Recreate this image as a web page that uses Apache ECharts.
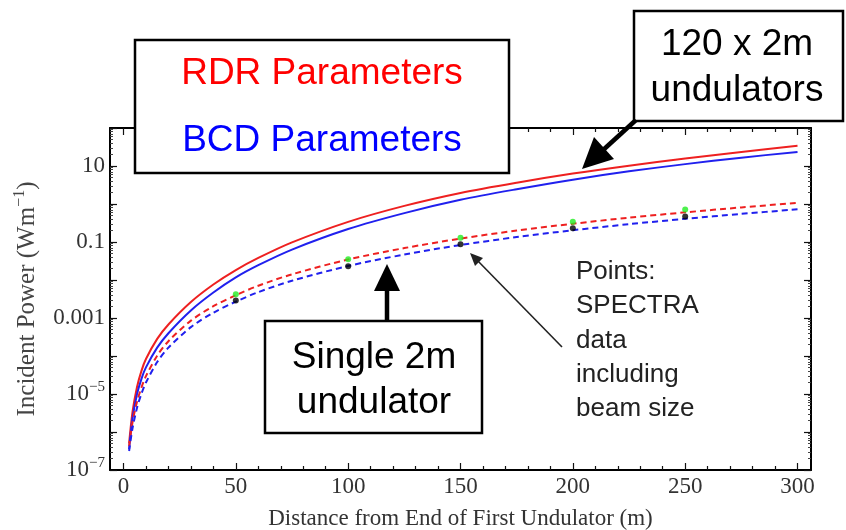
<!DOCTYPE html>
<html><head><meta charset="utf-8">
<script src="https://cdn.jsdelivr.net/npm/echarts@6/dist/echarts.min.js"></script>
<style>html,body{margin:0;padding:0;background:#fff}#c{width:846px;height:530px}</style>
</head><body><div id="c"></div>
<script>
// Distance from end of first undulator (m)
const distances = [2.5, 4, 6, 8, 10, 15, 20, 30, 40, 50, 60, 75, 100, 125, 150, 175, 200, 225, 250, 275, 300];
// Incident power (W/m), 120 x 2m undulators
const rdr120 = [5.0e-7, 3.31e-6, 1.51e-5, 4.07e-5, 8.32e-5, 2.82e-4, 6.76e-4, 2.63e-3, 7.59e-3, 0.0182, 0.0380, 0.0977, 0.339, 0.891, 1.95, 3.63, 6.31, 10.2, 15.8, 23.4, 33.9];
const bcd120 = [3.55e-7, 2.24e-6, 9.77e-6, 2.51e-5, 5.01e-5, 1.66e-4, 3.98e-4, 1.58e-3, 4.68e-3, 0.0117, 0.0245, 0.0631, 0.219, 0.575, 1.29, 2.45, 4.37, 7.24, 11.2, 16.6, 23.4];
// Single 2m undulator
const rdrSingle = [4.17e-7, 1.78e-6, 6.17e-6, 1.48e-5, 2.95e-5, 1.02e-4, 2.45e-4, 8.51e-4, 2.04e-3, 3.98e-3, 7.08e-3, 0.0141, 0.0347, 0.0692, 0.123, 0.200, 0.302, 0.437, 0.603, 0.813, 1.07];
const bcdSingle = [3.16e-7, 1.23e-6, 4.27e-6, 1.02e-5, 2.0e-5, 6.92e-5, 1.66e-4, 5.75e-4, 1.38e-3, 2.69e-3, 4.79e-3, 9.55e-3, 0.0234, 0.0468, 0.0832, 0.135, 0.204, 0.295, 0.407, 0.550, 0.724];
// SPECTRA points
const spectraX = [50, 100, 150, 200, 250];
const spectraRDR = [0.0042, 0.035, 0.129, 0.34, 0.72];
const spectraBCD = [0.0029, 0.023, 0.087, 0.23, 0.47];
// ticks
const xMajorTicks = [0, 50, 100, 150, 200, 250, 300];
const xMinorTicks = [10,20,30,40,60,70,80,90,110,120,130,140,160,170,180,190,210,220,230,240,260,270,280,290];
const yLabelValues = [1e-7, 1e-5, 1e-3, 0.1, 10];
const yLabelTexts = ['{b|10}{s|−7}', '{b|10}{s|−5}', '0.001', '0.1', '10'];
const yMinorMantissas = [2, 3, 4, 5, 6, 7, 8, 9];
const yDecades = [1e-7, 1e-6, 1e-5, 1e-4, 1e-3, 1e-2, 0.1, 1, 10];

const pair = (xs, ys) => xs.map((x, i) => [x, ys[i]]);
const serif = 'Liberation Serif';
const RED = '#ee2020', BLUE = '#2020ee';
const yMinorTicks = [];
yDecades.forEach(d => yMinorMantissas.forEach(m => yMinorTicks.push(+(m * d).toPrecision(3))));

const chart = echarts.init(document.getElementById('c'), null, {renderer: 'canvas'});
const xBase = {type: 'value', min: -6, max: 306, gridIndex: 0, splitLine: {show: false}};
const tickStyle = {color: '#111', width: 1.2};
const yLabelFmt = v => {
  const e = Math.round(Math.log10(v));
  const i = yLabelValues.findIndex(t => Math.round(Math.log10(t)) === e);
  return i >= 0 ? yLabelTexts[i] : '';
};
const yBase = {type: 'log', logBase: 10, min: 1e-7, max: 100, splitNumber: 9, splitLine: {show: false}};
chart.setOption({
  animation: false,
  backgroundColor: '#ffffff',
  grid: {left: 110, right: 35, top: 128, bottom: 60, show: false, containLabel: false, outerBoundsMode: 'none'},
  xAxis: [
    Object.assign({}, xBase, {position: 'bottom',
      axisLine: {show: true, onZero: false, lineStyle: {color: '#000', width: 2}},
      axisTick: {show: true, inside: true, length: 7, lineStyle: tickStyle, customValues: xMajorTicks},
      axisLabel: {customValues: xMajorTicks, fontFamily: serif, fontSize: 23, color: '#333', margin: 5},
      name: 'Distance from End of First Undulator (m)', nameLocation: 'middle', nameGap: 37,
      nameTextStyle: {fontFamily: serif, fontSize: 23, color: '#333'}}),
    Object.assign({}, xBase, {position: 'bottom',
      axisLine: {show: false, onZero: false},
      axisTick: {show: true, inside: true, length: 4, lineStyle: tickStyle, customValues: xMinorTicks},
      axisLabel: {show: false}}),
    Object.assign({}, xBase, {position: 'top',
      axisLine: {show: true, onZero: false, lineStyle: {color: '#000', width: 2}},
      axisTick: {show: true, inside: true, length: 7, lineStyle: tickStyle, customValues: xMajorTicks},
      axisLabel: {show: false}}),
    Object.assign({}, xBase, {position: 'top',
      axisLine: {show: false, onZero: false},
      axisTick: {show: true, inside: true, length: 4, lineStyle: tickStyle, customValues: xMinorTicks},
      axisLabel: {show: false}})
  ],
  yAxis: [
    Object.assign({}, yBase, {position: 'left',
      axisLine: {show: true, onZero: false, lineStyle: {color: '#000', width: 2}},
      axisTick: {show: true, inside: true, length: 7, lineStyle: tickStyle},
      axisLabel: {formatter: yLabelFmt, fontFamily: serif, fontSize: 23, color: '#333', margin: 5,
        rich: {b: {fontFamily: serif, fontSize: 23, color: '#333'},
               s: {fontFamily: serif, fontSize: 15, color: '#333', padding: [0, 0, 14, 0]}}},
      name: 'Incident Power (Wm{s|−1})', nameLocation: 'middle', nameGap: 68,
      nameTextStyle: {fontFamily: serif, fontSize: 25, color: '#444',
        rich: {s: {fontFamily: serif, fontSize: 16, color: '#444', padding: [0, 0, 14, 0]}}}}),
    Object.assign({}, yBase, {position: 'right',
      axisLine: {show: true, onZero: false, lineStyle: {color: '#000', width: 2}},
      axisTick: {show: true, inside: true, length: 7, lineStyle: tickStyle},
      axisLabel: {show: false}}),
    Object.assign({}, yBase, {position: 'left',
      axisLine: {show: false, onZero: false},
      axisTick: {show: true, inside: true, length: 3, lineStyle: {color: '#444', width: 1}, customValues: yMinorTicks},
      axisLabel: {show: false}}),
    Object.assign({}, yBase, {position: 'right',
      axisLine: {show: false, onZero: false},
      axisTick: {show: true, inside: true, length: 3, lineStyle: {color: '#444', width: 1}, customValues: yMinorTicks},
      axisLabel: {show: false}})
  ],
  series: [
    {type: 'line', name: 'RDR 120', data: pair(distances, rdr120), showSymbol: false, smooth: 0.3,
      lineStyle: {color: RED, width: 2}},
    {type: 'line', name: 'BCD 120', data: pair(distances, bcd120), showSymbol: false, smooth: 0.3,
      lineStyle: {color: BLUE, width: 2}},
    {type: 'line', name: 'RDR single', data: pair(distances, rdrSingle), showSymbol: false, smooth: 0.3,
      lineStyle: {color: RED, width: 2, type: [6, 4]}},
    {type: 'line', name: 'BCD single', data: pair(distances, bcdSingle), showSymbol: false, smooth: 0.3,
      lineStyle: {color: BLUE, width: 2, type: [6, 4]}},
    {type: 'scatter', name: 'SPECTRA RDR', data: pair(spectraX, spectraRDR), symbolSize: 6, itemStyle: {color: '#22ee22'}, z: 5},
    {type: 'scatter', name: 'SPECTRA BCD', data: pair(spectraX, spectraBCD), symbolSize: 6, itemStyle: {color: '#000'}, z: 5}
  ],
  graphic: [
    {type: 'rect', shape: {x: 135, y: 40, width: 374, height: 133}, style: {fill: '#fff', stroke: '#000', lineWidth: 2.5}, z: 100},
    {type: 'text', x: 322, y: 74, style: {text: 'RDR Parameters', fill: '#ff0000', font: '37px "Liberation Sans"', textAlign: 'center', textVerticalAlign: 'middle'}, z: 101},
    {type: 'text', x: 322, y: 141, style: {text: 'BCD Parameters', fill: '#0000ff', font: '37px "Liberation Sans"', textAlign: 'center', textVerticalAlign: 'middle'}, z: 101},
    {type: 'rect', shape: {x: 634, y: 11, width: 209, height: 110}, style: {fill: '#fff', stroke: '#000', lineWidth: 2.5}, z: 100},
    {type: 'text', x: 737, y: 45, style: {text: '120 x 2m', fill: '#000', font: '37px "Liberation Sans"', textAlign: 'center', textVerticalAlign: 'middle'}, z: 101},
    {type: 'text', x: 737, y: 91, style: {text: 'undulators', fill: '#000', font: '37px "Liberation Sans"', textAlign: 'center', textVerticalAlign: 'middle'}, z: 101},
    {type: 'rect', shape: {x: 265, y: 321, width: 217, height: 112}, style: {fill: '#fff', stroke: '#000', lineWidth: 2.5}, z: 100},
    {type: 'text', x: 374, y: 358, style: {text: 'Single 2m', fill: '#000', font: '37px "Liberation Sans"', textAlign: 'center', textVerticalAlign: 'middle'}, z: 101},
    {type: 'text', x: 374, y: 403, style: {text: 'undulator', fill: '#000', font: '37px "Liberation Sans"', textAlign: 'center', textVerticalAlign: 'middle'}, z: 101},
    {type: 'text', x: 576, y: 272, style: {text: 'Points:', fill: '#222', font: '26px "Liberation Sans"', textVerticalAlign: 'middle'}, z: 101},
    {type: 'text', x: 576, y: 306, style: {text: 'SPECTRA', fill: '#222', font: '26px "Liberation Sans"', textVerticalAlign: 'middle'}, z: 101},
    {type: 'text', x: 576, y: 341, style: {text: 'data', fill: '#222', font: '26px "Liberation Sans"', textVerticalAlign: 'middle'}, z: 101},
    {type: 'text', x: 576, y: 375, style: {text: 'including', fill: '#222', font: '26px "Liberation Sans"', textVerticalAlign: 'middle'}, z: 101},
    {type: 'text', x: 576, y: 409, style: {text: 'beam size', fill: '#222', font: '26px "Liberation Sans"', textVerticalAlign: 'middle'}, z: 101},
    {type: 'line', shape: {x1: 636, y1: 120, x2: 602, y2: 151}, style: {stroke: '#000', lineWidth: 4.5}, z: 102},
    {type: 'polygon', shape: {points: [[582, 169], [614, 159], [594, 137]]}, style: {fill: '#000'}, z: 102},
    {type: 'line', shape: {x1: 387, y1: 321, x2: 387, y2: 288}, style: {stroke: '#000', lineWidth: 4.5}, z: 102},
    {type: 'polygon', shape: {points: [[387, 264], [400, 291], [374, 291]]}, style: {fill: '#000'}, z: 102},
    {type: 'line', shape: {x1: 562, y1: 347, x2: 476, y2: 259}, style: {stroke: '#222', lineWidth: 1.6}, z: 102},
    {type: 'polygon', shape: {points: [[470, 253], [483, 258], [475, 266]]}, style: {fill: '#222'}, z: 102}
  ]
});
</script></body></html>
